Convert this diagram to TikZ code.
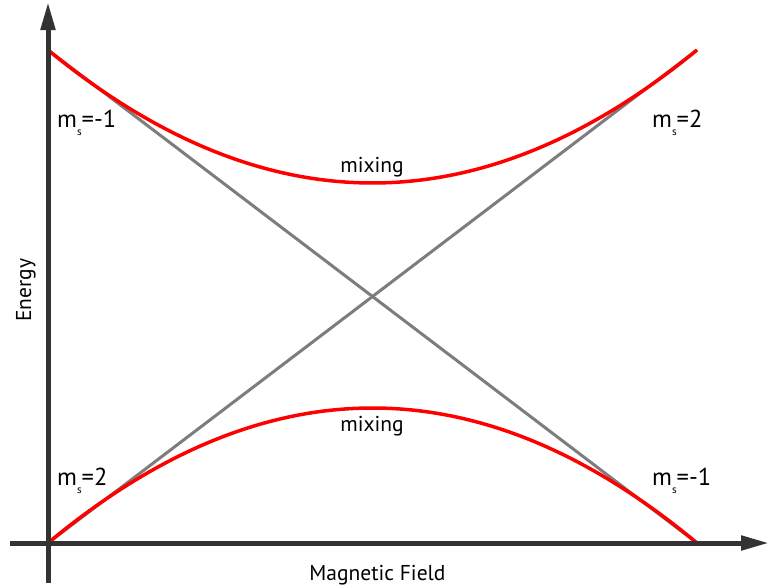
\documentclass[tikz,border=0pt]{standalone}
\usepackage{fontspec}
\setmainfont{PT Sans}
\usetikzlibrary{arrows.meta}
\definecolor{axisgray}{HTML}{333333}
\definecolor{linegray}{HTML}{7d7d7d}
\newcommand{\msub}[1]{m\raisebox{-0.36em}{\fontsize{11}{11}\selectfont s}#1}
\begin{document}
\begin{tikzpicture}[x=1pt,y=-1pt,
  axis/.style={draw=axisgray,line width=5pt,-{Triangle[length=28pt,width=14pt]}},
  level/.style={draw=linegray,line width=3pt},
  mixed/.style={draw=red,line width=3.5pt},
  lbl/.style={inner sep=0pt,anchor=base west,font=\fontsize{24.5}{24.5}\selectfont},
  txt/.style={inner sep=0pt,anchor=base,font=\fontsize{21.5}{21.5}\selectfont}]
\useasboundingbox (0,0) rectangle (769,587);
% coordinates
\coordinate (O) at (48,543);
\coordinate (TL) at (48,50);
\coordinate (TR) at (697,50);
\coordinate (BR) at (697,543);
\coordinate (yb) at (48,583);
\coordinate (yt) at (48,2);
\coordinate (xl) at (10,543);
\coordinate (xr) at (769,543);
% straight levels
\draw[level] (TL) -- (BR);
\draw[level] (O) -- (TR);
% mixed levels
\draw[mixed] (TL) .. controls (264.3,227.3) and (480.7,227.3) .. (TR);
\draw[mixed] (O) .. controls (264.3,363) and (480.7,363) .. (BR);
% axes
\draw[axis] (yb) -- (yt);
\draw[axis] (xl) -- (xr);
% labels
\node[lbl] (l1) at (57,127) {\msub{=-1}};
\node[lbl] (l2) at (652,127) {\msub{=2}};
\node[lbl] (l3) at (57,485) {\msub{=2}};
\node[lbl] (l4) at (652,485) {\msub{=-1}};
\node[txt] (mx1) at (372,172) {mixing};
\node[txt] (mx2) at (372,431) {mixing};
\node[txt] (xlab) at (377.5,580) {Magnetic Field};
\node[txt,rotate=90] (ylab) at (31,290) {Energy};
\end{tikzpicture}
\end{document}
